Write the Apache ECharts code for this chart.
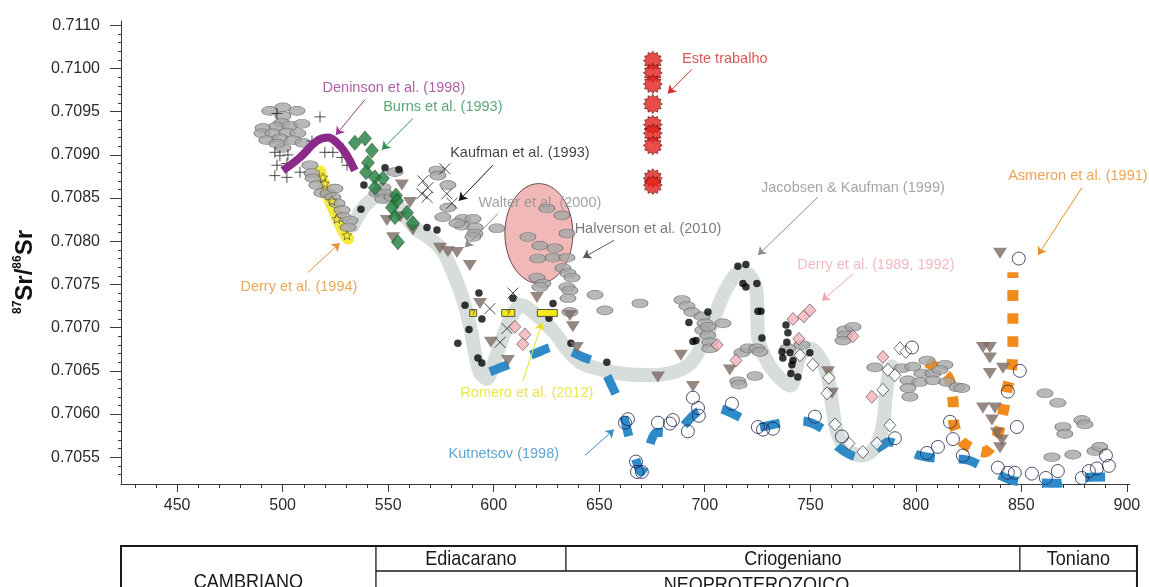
<!DOCTYPE html>
<html>
<head>
<meta charset="utf-8">
<script src="https://cdn.jsdelivr.net/npm/echarts@6/dist/echarts.min.js"></script>
<style>
html,body{margin:0;padding:0;background:#ffffff;}
#chart{width:1149px;height:587px;}
</style>
</head>
<body>
<div id="chart"></div>
<script>
// ---- axis ranges and tick labels ----
const xMin = 423.4, xMax = 901.5;
const yMin = 0.70519, yMax = 0.71055;
const xTickValues = [450, 500, 550, 600, 650, 700, 750, 800, 850, 900];
const yTickValues = [0.7055, 0.7060, 0.7065, 0.7070, 0.7075, 0.7080, 0.7085, 0.7090, 0.7095, 0.7100, 0.7105];
const yTickLabels = ['0.7055', '0.7060', '0.7065', '0.7070', '0.7075', '0.7080', '0.7085', '0.7090', '0.7095', '0.7100', '0.7110'];

// ---- data: [age (Ma), 87Sr/86Sr] ----
const grayEllipses = [
  [493.9,0.70951],[500.1,0.70955],[506.8,0.70951],[500.1,0.70945],[499.6,0.70937],[490.7,0.70931],[497.3,0.70933],
  [503.4,0.70934],[509.1,0.70936],[490.2,0.70925],[495.4,0.70925],[502.0,0.70926],[507.2,0.70925],[492.5,0.70917],
  [498.7,0.70919],[504.9,0.70917],[509.6,0.70914],[500.1,0.70908],[497.3,0.70913],
  [512.9,0.70888],[513.9,0.70879],[514.4,0.70873],[516.2,0.70865],[518.6,0.70856],[521.5,0.70855],[524.8,0.70861],
  [523.8,0.70851],[525.7,0.70844],[528.1,0.70836],[528.6,0.70828],[531.9,0.70824],[531.0,0.70816],
  [547.5,0.70862],[544.7,0.70856],[548.5,0.70855],[547.5,0.70849],[551.8,0.70851],[553.2,0.70880],
  [573.1,0.70882],[573.6,0.70876],[578.3,0.70865],[578.3,0.70839],[575.9,0.70828],[585.4,0.70826],[590.2,0.70826],
  [584.9,0.70818],[591.1,0.70816],[591.1,0.70809],[601.5,0.70815],[590.2,0.70805],[582.6,0.70821],
  [616.2,0.70805],[621.9,0.70795],[629.0,0.70792],[620.9,0.70780],[628.1,0.70781],[634.7,0.70781],[625.2,0.70838],
  [632.3,0.70830],[634.7,0.70809],[632.8,0.70769],[635.2,0.70763],[637.1,0.70758],[634.7,0.70747],[620.5,0.70758],
  [623.3,0.70751],[621.9,0.70747],[636.1,0.70743],[635.2,0.70734],[636.1,0.70718],[648.0,0.70738],[652.7,0.70720],
  [669.3,0.70728],
  [689.2,0.70732],[691.6,0.70725],[693.9,0.70718],[698.7,0.70713],[700.1,0.70705],[699.1,0.70697],[701.5,0.70701],
  [701.5,0.70691],[702.4,0.70683],[702.4,0.70676],[708.6,0.70705],[717.6,0.70671],[720.5,0.70676],[724.7,0.70676],
  [726.1,0.70672],[715.7,0.70638],[716.2,0.70634],[723.8,0.70644],
  [739.4,0.70676],[746.0,0.70680],[766.4,0.70697],[770.2,0.70701],[766.4,0.70691],[765.5,0.70685],
  [780.6,0.70654],[793.4,0.70653],[798.6,0.70655],[805.3,0.70662],[813.8,0.70657],[802.9,0.70647],[808.1,0.70647],
  [796.3,0.70639],[801.9,0.70637],[808.1,0.70639],[814.7,0.70637],[819.5,0.70631],[821.8,0.70630],[796.3,0.70630],
  [797.2,0.70620],[811.4,0.70651],
  [861.2,0.70624],[867.3,0.70613],[878.7,0.70593],[880.1,0.70588],[869.7,0.70585],[870.6,0.70577],[864.5,0.70550],
  [874.4,0.70553],[884.9,0.70557],[887.2,0.70562]
];
const plusCrosses = [
  [517.7,0.70944],[497.3,0.70948],[496.3,0.70903],[498.7,0.70899],[502.5,0.70900],[497.3,0.70888],[502.0,0.70890],
  [508.2,0.70880],[496.3,0.70876],[502.0,0.70874],[520.0,0.70903],[523.8,0.70903],[526.2,0.70913],[528.1,0.70897],
  [530.5,0.70888],[513.9,0.70916]
];
const xCrosses = [
  [576.9,0.70884],[566.5,0.70870],[568.8,0.70862],[566.0,0.70855],[568.4,0.70851],[577.8,0.70855],[580.2,0.70844],
  [609.1,0.70740],[598.2,0.70722],[606.3,0.70699],[603.0,0.70683]
];
const blackDots = [
  [548.5,0.70885],[555.1,0.70883],[538.5,0.70865],[537.1,0.70837],[568.4,0.70816],[573.1,0.70813],[593.0,0.70740],
  [586.4,0.70726],[594.4,0.70710],[588.3,0.70698],[583.0,0.70682],[592.5,0.70665],[594.4,0.70659],[609.1,0.70734],
  [628.1,0.70728],[626.2,0.70711],[636.6,0.70682],[653.6,0.70660],[694.4,0.70684],[701.5,0.70718],[692.5,0.70706],
  [695.8,0.70685],[715.7,0.70771],[719.5,0.70773],[718.1,0.70751],[719.5,0.70747],[724.7,0.70751],[725.2,0.70719],
  [726.6,0.70719],[727.1,0.70688],[739.4,0.70694],[738.9,0.70683],[736.6,0.70672],[737.0,0.70665],[740.4,0.70671],
  [741.3,0.70657],[741.8,0.70662],[740.8,0.70647],[744.1,0.70643],[749.8,0.70671],[738.5,0.70703]
];
const brownTriangles = [
  [556.5,0.70865],[549.4,0.70824],[555.6,0.70828],[560.3,0.70845],[561.7,0.70813],[552.3,0.70804],[574.5,0.70792],
  [578.3,0.70788],[582.6,0.70787],[588.7,0.70772],[593.5,0.70728],[598.7,0.70683],[606.7,0.70662],[620.5,0.70735],
  [636.1,0.70714],[637.5,0.70701],[639.4,0.70677],[677.8,0.70643],[688.7,0.70668],[694.4,0.70632],[711.9,0.70651],
  [758.4,0.70649],[760.3,0.70624],[839.9,0.70786],[831.8,0.70677],[835.1,0.70677],[835.1,0.70665],[835.1,0.70647],
  [841.3,0.70653],[831.8,0.70607],[837.5,0.70607],[836.1,0.70593],[838.4,0.70578],[840.8,0.70570],[839.9,0.70561]
];
const burnsDiamonds = [
  [534.2,0.70914],[539.0,0.70919],[542.3,0.70905],[540.4,0.70891],[539.5,0.70880],[543.7,0.70874],[547.5,0.70873],
  [543.7,0.70862],[553.7,0.70853],[554.2,0.70847],[551.8,0.70839],[558.9,0.70833],[553.2,0.70828],[561.7,0.70821],
  [554.6,0.70799]
];
const derryDiamonds = [
  [610.0,0.70701],[614.8,0.70692],[613.8,0.70681],[705.8,0.70680],[714.8,0.70662],[741.8,0.70710],[746.9,0.70713],
  [749.8,0.70720],[744.6,0.70687],[770.2,0.70690],[784.4,0.70666],[779.2,0.70620]
];
const openDiamonds = [
  [745.1,0.70668],[751.2,0.70657],[758.8,0.70642],[757.9,0.70624],[761.7,0.70588],[768.3,0.70566],[774.9,0.70556],
  [781.6,0.70566],[787.7,0.70587],[784.4,0.70628],[786.8,0.70651],[790.1,0.70645],[792.5,0.70676],[795.3,0.70672]
];
const openCircles = [
  [662.2,0.70590],[663.6,0.70594],[667.4,0.70545],[667.9,0.70533],[670.2,0.70533],[677.8,0.70590],[683.5,0.70589],
  [684.9,0.70593],[692.0,0.70580],[694.4,0.70619],[696.8,0.70607],[697.2,0.70598],[712.9,0.70612],[725.2,0.70585],
  [727.6,0.70582],[732.3,0.70583],[752.2,0.70597],[765.0,0.70574],[790.1,0.70572],[798.2,0.70677],[810.5,0.70562],
  [805.3,0.70555],[816.2,0.70591],[817.6,0.70571],[822.3,0.70552],[838.9,0.70538],[843.6,0.70532],[846.9,0.70532],
  [855.0,0.70531],[861.6,0.70526],[867.3,0.70534],[878.7,0.70526],[882.0,0.70534],[885.8,0.70537],[890.1,0.70552],
  [891.5,0.70540],[848.8,0.70780],[849.3,0.70650],[843.6,0.70626],[847.9,0.70585]
];
const derry1994Stars = [
  [519.1,0.70874],[520.0,0.70867],[523.4,0.70847],[525.7,0.70826],[530.5,0.70807]
];
const derry1994Field = [
  [517.7,0.70881],[520.5,0.70859],[524.3,0.70836],[528.1,0.70815],[531.0,0.70803]
];
const denisonCurve = [
  [500.1,0.70882],[508.2,0.70897],[516.2,0.70916],[521.5,0.70920],[525.7,0.70914],[529.5,0.70903],[534.2,0.70882]
];
const jacobsenCurve = [
  [533.3,0.70818],[539.0,0.70841],[546.1,0.70852],[553.2,0.70845],[561.7,0.70818],[574.5,0.70793],[580.7,0.70764],
  [585.4,0.70733],[588.7,0.70703],[591.1,0.70671],[593.5,0.70648],[596.8,0.70641],[599.6,0.70656],[603.9,0.70686],
  [608.6,0.70714],[613.3,0.70726],[618.6,0.70718],[625.2,0.70704],[629.9,0.70691],[634.7,0.70675],[640.9,0.70660],
  [650.3,0.70652],[663.1,0.70646],[675.4,0.70645],[688.2,0.70651],[694.4,0.70662],[701.0,0.70691],[707.2,0.70729],
  [711.9,0.70752],[716.7,0.70764],[721.4,0.70760],[724.7,0.70738],[725.2,0.70691],[728.5,0.70666],[733.2,0.70648],
  [740.4,0.70633],[745.1,0.70667],[749.8,0.70676],[754.6,0.70665],[758.4,0.70642],[760.7,0.70605],[763.1,0.70576],
  [767.8,0.70559],[774.5,0.70552],[780.6,0.70561],[784.4,0.70587],[785.8,0.70622],[787.3,0.70648],[788.7,0.70655]
];
const kutnetsovCurve = [
  [598.2,0.70649],[606.7,0.70657],[620.5,0.70671],[629.0,0.70678],[642.3,0.70666],[650.3,0.70657],[656.5,0.70630],
  [660.7,0.70605],[664.5,0.70570],[667.4,0.70547],[669.7,0.70533],[677.3,0.70579],[684.9,0.70578],[696.3,0.70602],
  [704.8,0.70607],[717.6,0.70595],[722.8,0.70584],[737.0,0.70590],[746.0,0.70592],[758.4,0.70579],[763.1,0.70562],
  [773.0,0.70550],[784.4,0.70564],[786.8,0.70568],[800.5,0.70553],[809.1,0.70549],[824.2,0.70547],[831.8,0.70539],
  [844.6,0.70524],[852.6,0.70521],[868.3,0.70520],[876.3,0.70526],[890.5,0.70527],[899.1,0.70527]
];
const asmeronCurve = [
  [805.3,0.70660],[815.2,0.70643],[817.6,0.70616],[818.0,0.70590],[822.3,0.70567],[832.7,0.70556],[838.4,0.70574],
  [841.3,0.70601],[843.2,0.70628],[845.5,0.70654],[846.0,0.70681],[846.0,0.70709],[846.0,0.70735],[846.0,0.70764]
];
const thisWork = [
  [675.4,0.71009],[675.4,0.70995],[675.4,0.70982],[675.4,0.70959],[675.4,0.70935],[675.4,0.70925],[675.4,0.70911],
  [675.4,0.70873],[675.4,0.70865]
];
// Walter et al. (2000) field: [centre age, centre ratio, width (Ma), height (ratio)]
const walterField = [[621.4, 0.70809, 32.2, 0.001155]];
// Romero et al. (2012) boxes: [centre age, ratio, width (Ma)]
const romeroBoxes = [[590.3,0.70717,3.3],[606.9,0.70717,6.2],[625.4,0.70717,9.5]];
const romeroMarks = ['?', '?', ''];
const romeroBoxHeight = 0.00008;

// ---- annotations ----
const noteTexts = ['Deninson et al. (1998)','Burns et al. (1993)','Kaufman et al. (1993)','Walter et al. (2000)',
  'Halverson et al. (2010)','Este trabalho','Jacobsen & Kaufman (1999)','Asmeron et al. (1991)',
  'Derry et al. (1989, 1992)','Derry et al. (1994)','Romero et al. (2012)','Kutnetsov (1998)'];
const noteColors = ['#9a3892','#2f9152','#111111','#8c8c8c','#5a5a5a','#d42b2b','#8e8e8e','#e58f2b',
  '#f0a7ae','#e3922f','#e9df1f','#3a8ec6'];
const notePos = [[552.7,0.70977],[575.9,0.70955],[612.4,0.70902],[621.9,0.70844],[673.1,0.70814],[709.5,0.71011],
  [770.2,0.70862],[876.8,0.70875],[781.1,0.70773],[507.7,0.70747],[615.7,0.70624],[604.8,0.70554]];
const arrowFrom = [[539.0,0.70964],[561.7,0.70942],[599.6,0.70888],[602.0,0.70832],[657.0,0.70801],[693.9,0.70999],
  [753.6,0.70851],[878.7,0.70862],[770.2,0.70762],[512.0,0.70764],[613.8,0.70638],[643.2,0.70552]];
const arrowTo = [[525.2,0.70923],[547.0,0.70906],[583.5,0.70847],[586.4,0.70793],[642.3,0.70781],[682.5,0.70971],
  [725.2,0.70784],[857.9,0.70784],[755.5,0.70731],[527.1,0.70798],[622.9,0.70706],[657.0,0.70582]];

// ---- geological time table ----
const eraBounds = [423.4, 544.2, 634.2, 849.3, 904.8];
const periodRow = ['Ediacarano', 'Criogeniano', 'Toniano'];
const eraRow = ['CAMBRIANO', 'NEOPROTEROZOICO'];

const FONT = '"Liberation Sans", Arial, Helvetica, sans-serif';

function starSymbol(points, inner) {
  let d = '';
  for (let i = 0; i < points * 2; i++) {
    const a = i * Math.PI / points - Math.PI / 2;
    const r = i % 2 ? inner : 1;
    d += (i ? 'L' : 'M') + (50 + 50 * r * Math.cos(a)).toFixed(2) + ',' + (50 + 50 * r * Math.sin(a)).toFixed(2);
  }
  return 'path://' + d + 'Z';
}

const xMinor = [], yMinor = [];
for (let a = 430; a <= 900; a += 10) xMinor.push(a);
for (let k = 7053; k <= 7105; k++) yMinor.push(k / 10000);

const chart = echarts.init(document.getElementById('chart'), null, { renderer: 'canvas' });

function tickLabel(v) {
  const i = yTickValues.findIndex(t => Math.abs(t - v) < 1e-7);
  return i >= 0 ? yTickLabels[i] : '';
}

const axisColor = '#3a3a3a';

const option = {
  animation: false,
  backgroundColor: '#ffffff',
  textStyle: { fontFamily: FONT },
  grid: { left: 121, right: 19, top: 21, bottom: 103 },
  xAxis: [
    {
      type: 'value', min: xMin, max: xMax,
      axisLine: { onZero: false, lineStyle: { color: axisColor, width: 1 } },
      axisTick: { customValues: xTickValues, length: 8, lineStyle: { color: axisColor } },
      axisLabel: { customValues: xTickValues, fontSize: 16, color: '#2b2b2b', margin: 14, fontFamily: FONT },
      splitLine: { show: false }
    },
    {
      type: 'value', min: xMin, max: xMax, position: 'bottom',
      axisLine: { show: false },
      axisTick: { customValues: xMinor, length: 4, lineStyle: { color: axisColor } },
      axisLabel: { show: false },
      splitLine: { show: false }
    }
  ],
  yAxis: [
    {
      type: 'value', min: yMin, max: yMax,
      axisLine: { show: true, onZero: false, lineStyle: { color: axisColor, width: 1 } },
      axisTick: { show: true, customValues: yTickValues, length: 11, lineStyle: { color: axisColor } },
      axisLabel: { customValues: yTickValues, formatter: tickLabel, fontSize: 16, color: '#2b2b2b', margin: 21, fontFamily: FONT },
      splitLine: { show: false }
    },
    {
      type: 'value', min: yMin, max: yMax, position: 'left',
      axisLine: { show: false },
      axisTick: { show: true, customValues: yMinor, length: 3, lineStyle: { color: axisColor } },
      axisLabel: { show: false },
      splitLine: { show: false }
    }
  ],
  series: [
    {
      name: 'Derry et al. (1994) field', type: 'line', data: derry1994Field, smooth: 0.3, symbol: 'none', z: 1,
      lineStyle: { color: '#f5eb3c', width: 12, cap: 'round', join: 'round' }
    },
    {
      name: 'Jacobsen & Kaufman (1999)', type: 'line', data: jacobsenCurve, smooth: 0.35, symbol: 'none', z: 1,
      lineStyle: { color: '#d7dddA', width: 14, cap: 'round', join: 'round' }
    },
    {
      name: 'Walter et al. (2000)', type: 'custom', data: walterField, encode: { x: 0, y: 1 }, z: 2,
      renderItem: function (params, api) {
        const c = api.coord([api.value(0), api.value(1)]);
        const s = api.size([api.value(2), api.value(3)]);
        const pts = [];
        for (let i = 0; i < 90; i++) {
          const t = i / 90 * Math.PI * 2;
          pts.push([c[0] + s[0] / 2 * Math.cos(t), c[1] + s[1] / 2 * Math.sin(t)]);
        }
        return { type: 'polygon', shape: { points: pts }, style: { fill: '#f1b8b8', stroke: '#6a4a4a', lineWidth: 1 } };
      }
    },
    {
      name: 'Kutnetsov (1998)', type: 'line', data: kutnetsovCurve, smooth: 0.3, symbol: 'none', z: 3,
      lineStyle: { color: '#2f8bc8', width: 9, type: [20, 24] }
    },
    {
      name: 'Asmeron et al. (1991)', type: 'line', data: asmeronCurve, smooth: 0.3, symbol: 'none', z: 3,
      lineStyle: { color: '#f28b1e', width: 11, type: [11, 12] }
    },
    {
      name: 'Compilação', type: 'scatter', data: grayEllipses, z: 4,
      symbol: 'path://M0,50A100,50 0 1,1 200,50A100,50 0 1,1 0,50Z', symbolSize: [16, 9],
      itemStyle: { color: '#a6a6a6', borderColor: '#6e6e6e', borderWidth: 0.8 }
    },
    {
      name: 'plus', type: 'scatter', data: plusCrosses, z: 5,
      symbol: 'path://M5,0L5,10M0,5L10,5', symbolSize: 11,
      itemStyle: { color: 'transparent', borderColor: '#222222', borderWidth: 1 }
    },
    {
      name: 'cross', type: 'scatter', data: xCrosses, z: 5,
      symbol: 'path://M0,0L10,10M10,0L0,10', symbolSize: 11,
      itemStyle: { color: 'transparent', borderColor: '#222222', borderWidth: 1 }
    },
    {
      name: 'dots', type: 'scatter', data: blackDots, z: 6,
      symbol: 'circle', symbolSize: 7.5, itemStyle: { color: '#050505' }
    },
    {
      name: 'triangles', type: 'scatter', data: brownTriangles, z: 6,
      symbol: 'path://M0,0L10,0L5,8Z', symbolSize: [14, 11],
      itemStyle: { color: '#7a6962' }
    },
    {
      name: 'Burns et al. (1993)', type: 'scatter', data: burnsDiamonds, z: 7,
      symbol: 'diamond', symbolSize: [13, 15],
      itemStyle: { color: '#1f7d3c', borderColor: '#0d3a1b', borderWidth: 0.6 }
    },
    {
      name: 'Derry et al. (1989, 1992)', type: 'scatter', data: derryDiamonds, z: 7,
      symbol: 'diamond', symbolSize: [12, 13],
      itemStyle: { color: '#f2b2b8', borderColor: '#444444', borderWidth: 0.8 }
    },
    {
      name: 'open diamonds', type: 'scatter', data: openDiamonds, z: 7,
      symbol: 'diamond', symbolSize: [12, 13],
      itemStyle: { color: '#ffffff', borderColor: '#333333', borderWidth: 0.9 }
    },
    {
      name: 'open circles', type: 'scatter', data: openCircles, z: 7,
      symbol: 'circle', symbolSize: 13,
      itemStyle: { color: 'rgba(255,255,255,0)', borderColor: '#1d2550', borderWidth: 1 }
    },
    {
      name: 'Derry et al. (1994)', type: 'scatter', data: derry1994Stars, z: 8,
      symbol: starSymbol(5, 0.45), symbolSize: 9,
      itemStyle: { color: '#f6e93a', borderColor: '#333333', borderWidth: 0.7 }
    },
    {
      name: 'Deninson et al. (1998)', type: 'line', data: denisonCurve, smooth: 0.4, symbol: 'none', z: 8,
      lineStyle: { color: '#8c2a8a', width: 8, cap: 'butt', join: 'round' }
    },
    {
      name: 'Romero et al. (2012)', type: 'custom', data: romeroBoxes, encode: { x: 0, y: 1 }, z: 9,
      renderItem: function (params, api) {
        const c = api.coord([api.value(0), api.value(1)]);
        const s = api.size([api.value(2), romeroBoxHeight]);
        return {
          type: 'group',
          children: [
            { type: 'rect', shape: { x: c[0] - s[0] / 2, y: c[1] - s[1] / 2, width: s[0], height: s[1] },
              style: { fill: '#f7e81c', stroke: '#333333', lineWidth: 0.8 } },
            { type: 'text', style: { text: romeroMarks[params.dataIndex], x: c[0], y: c[1], align: 'center',
              verticalAlign: 'middle', fontSize: 8, fill: '#333333', fontFamily: FONT } }
          ]
        };
      }
    },
    {
      name: 'Este trabalho', type: 'scatter', data: thisWork, z: 10,
      symbol: starSymbol(12, 0.74), symbolSize: 19,
      itemStyle: { color: '#e3201c', borderColor: '#5a1010', borderWidth: 0.8 }
    },
    {
      name: 'arrows', type: 'lines', coordinateSystem: 'cartesian2d', z: 11,
      symbol: ['none', 'arrow'], symbolSize: 8,
      data: arrowFrom.map((f, i) => ({ coords: [f, arrowTo[i]], lineStyle: { color: noteColors[i], width: 1 } })),
      lineStyle: { width: 1, opacity: 1 }
    },
    {
      name: 'notes', type: 'scatter', z: 12, symbolSize: 1, itemStyle: { color: 'rgba(0,0,0,0)' },
      data: notePos.map((p, i) => ({
        name: noteTexts[i], value: p,
        label: { show: true, position: 'inside', formatter: '{b}', color: noteColors[i], fontSize: 14.5, fontFamily: FONT }
      }))
    }
  ],
  graphic: [
    {
      type: 'text', x: 25, y: 272, rotation: Math.PI / 2,
      style: {
        text: '{sup|87}{big|Sr/}{sup|86}{big|Sr}',
        align: 'center', verticalAlign: 'middle',
        rich: {
          sup: { fontSize: 12, fontWeight: 'bold', fill: '#111', fontFamily: FONT, verticalAlign: 'top', lineHeight: 26 },
          big: { fontSize: 24, fontWeight: 'bold', fill: '#111', fontFamily: FONT, lineHeight: 26 }
        }
      }
    }
  ]
};

chart.setOption(option);

// period / era table beneath the age axis, aligned with the axis scale
const bx = eraBounds.map(a => chart.convertToPixel({ xAxisIndex: 0 }, a));
const tTop = 546, tMid = 571, tBot = 605;
const lineCol = '#1a1a1a';
const tableEls = [
  { type: 'rect', shape: { x: bx[0], y: tTop, width: bx[4] - bx[0], height: tBot - tTop },
    style: { fill: 'none', stroke: lineCol, lineWidth: 2 } },
  { type: 'line', shape: { x1: bx[1], y1: tTop, x2: bx[1], y2: tBot }, style: { stroke: lineCol, lineWidth: 1.3 } },
  { type: 'line', shape: { x1: bx[1], y1: tMid, x2: bx[4], y2: tMid }, style: { stroke: lineCol, lineWidth: 1.3 } },
  { type: 'line', shape: { x1: bx[2], y1: tTop, x2: bx[2], y2: tMid }, style: { stroke: lineCol, lineWidth: 1.3 } },
  { type: 'line', shape: { x1: bx[3], y1: tTop, x2: bx[3], y2: tMid }, style: { stroke: lineCol, lineWidth: 1.3 } }
];
// condensed lettering: a taller face squeezed horizontally
function cellText(t, cx, cy) {
  return { type: 'text', x: cx, y: cy, scaleX: 0.86, scaleY: 1,
    style: { text: t, x: 0, y: 0, align: 'center', verticalAlign: 'middle', fontSize: 21, fontFamily: FONT, fill: '#1a1a1a' } };
}
periodRow.forEach((t, i) => tableEls.push(cellText(t, (bx[i + 1] + bx[i + 2]) / 2, (tTop + tMid) / 2 + 1)));
tableEls.push(cellText(eraRow[0], (bx[0] + bx[1]) / 2, 582));
tableEls.push(cellText(eraRow[1], (bx[1] + bx[4]) / 2, 585));

chart.setOption({ graphic: option.graphic.concat(tableEls) });
</script>
</body>
</html>
